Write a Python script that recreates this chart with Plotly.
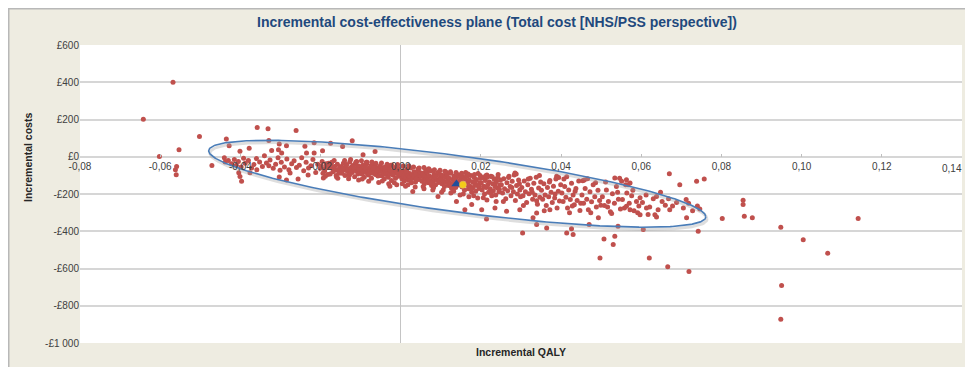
import numpy as np
import plotly.graph_objects as go

# ---------------- data ----------------
x_tick_vals = [-0.08, -0.06, -0.04, -0.02, 0.0, 0.02, 0.04, 0.06, 0.08, 0.10, 0.12, 0.14]
x_tick_text = ["-0,08", "-0,06", "-0,04", "-0,02", "0,00", "0,02", "0,04", "0,06", "0,08", "0,10", "0,12", "0,14"]
y_tick_vals = [-1000, -800, -600, -400, -200, 0, 200, 400, 600]
y_tick_text = ["-£1 000", "-£800", "-£600", "-£400", "-£200", "£0", "£200", "£400", "£600"]

qaly_far_left = [-0.0642, -0.0602, -0.0568, -0.0559, -0.0562, -0.0560, -0.0553, -0.0502, -0.0471]
cost_far_left = [202, 2, 400, -52, -70, -97, 37, 109, -47]

qaly_left_upper = [-0.0435, -0.0428, -0.0401, -0.0378, -0.0358, -0.0331, -0.0329, -0.0261, -0.0303, -0.0285,
                   -0.0305, -0.0322, -0.0297, -0.0239, -0.0216, -0.0195, -0.0175, -0.0145, -0.0121, -0.0094,
                   -0.0064, -0.0216, -0.0235, -0.0440]
cost_left_upper = [95, 59, 30, 45, 157, 150, 87, 141, 68, 59, 37, 34, 20, 57, 75, 32, 72, 55, 86, 11, 28, 20, 20, -5]

qaly_left_lower = [-0.0397, -0.0401, -0.0404, -0.0376, -0.0359, -0.0329, -0.0303, -0.0276, -0.0256, -0.0231,
                   -0.0193, -0.0160, -0.0301, -0.0285]
cost_left_lower = [-132, -106, -86, -86, -70, -48, -109, -87, -120, -98, -114, -109, -73, -125]

qaly_left_mid = [-0.0438, -0.0430, -0.0422, -0.0415, -0.0410, -0.0405, -0.0398, -0.0392, -0.0388, -0.0380,
                 -0.0372, -0.0366, -0.0360, -0.0352, -0.0345, -0.0340, -0.0335, -0.0326, -0.0318, -0.0312,
                 -0.0306, -0.0298, -0.0290, -0.0284, -0.0279, -0.0272, -0.0266, -0.0260, -0.0253, -0.0247,
                 -0.0242, -0.0236, -0.0230, -0.0224, -0.0219, -0.0212, -0.0207, -0.0201, -0.0196, -0.0190,
                 -0.0185, -0.0180, -0.0176, -0.0171, -0.0166, -0.0162]
cost_left_mid = [-28, -20, -38, -15, -45, -25, -55, -8, -35, -20, -60, -42, -10, -28, -52, 5, -33, -18, -62, -40,
                 -5, -30, -55, -12, -70, -38, -22, -58, -45, -5, -75, -30, -60, -48, -15, -85, -40, -62, -25, -78,
                 -50, -35, -92, -60, -20, -72]

qaly_left_dense = [-0.0198, -0.0194, -0.0189, -0.0186, -0.0182, -0.0178, -0.0174, -0.0169, -0.0165, -0.0161,
                   -0.0158, -0.0156, -0.0154, -0.0152, -0.0150, -0.0188, -0.0172, -0.0157]
cost_left_dense = [-50, -88, -66, -38, -95, -58, -45, -80, -52, -100, -40, -68, -88, -55, -76, -105, -30, -115]

qaly_core_a = [-0.0148, -0.0146, -0.0143, -0.0141, -0.0139, -0.0137, -0.0135, -0.0133, -0.0131, -0.0129,
               -0.0127, -0.0125, -0.0123, -0.0121, -0.0119, -0.0117, -0.0115, -0.0113, -0.0111, -0.0109,
               -0.0107, -0.0105, -0.0103, -0.0101, -0.0144, -0.0136, -0.0128, -0.0118, -0.0112, -0.0104]
cost_core_a = [-52, -88, -35, -70, -101, -58, -42, -79, -64, -95, -28, -73, -55, -84, -47, -66, -108, -38, -76, -60,
               -92, -49, -71, -83, -62, -45, -99, -57, -30, -68]

qaly_core_b = [-0.0099, -0.0097, -0.0095, -0.0093, -0.0091, -0.0089, -0.0087, -0.0085, -0.0083, -0.0081,
               -0.0079, -0.0077, -0.0075, -0.0073, -0.0071, -0.0069, -0.0067, -0.0065, -0.0063, -0.0061,
               -0.0059, -0.0057, -0.0055, -0.0053, -0.0051, -0.0096, -0.0088, -0.0078, -0.0068, -0.0058,
               -0.0052, -0.0084]
cost_core_b = [-66, -92, -45, -78, -110, -58, -85, -37, -71, -98, -62, -80, -50, -115, -74, -88, -42, -69, -95, -57,
               -83, -104, -64, -77, -48, -120, -55, -90, -60, -72, -100, -30]

qaly_core_c = [-0.0049, -0.0047, -0.0045, -0.0043, -0.0041, -0.0039, -0.0037, -0.0035, -0.0033, -0.0031,
               -0.0029, -0.0027, -0.0025, -0.0023, -0.0021, -0.0019, -0.0017, -0.0015, -0.0013, -0.0011,
               -0.0009, -0.0007, -0.0005, -0.0003, -0.0001, -0.0046, -0.0036, -0.0026, -0.0016, -0.0006,
               -0.0040, -0.0020]
cost_core_c = [-78, -102, -60, -88, -120, -70, -95, -52, -84, -110, -66, -92, -45, -128, -80, -99, -58, -86, -115, -73,
               -90, -62, -105, -82, -97, -130, -68, -75, -140, -87, -56, -94]

qaly_core_d = [0.0001, 0.0003, 0.0005, 0.0007, 0.0009, 0.0011, 0.0013, 0.0015, 0.0017, 0.0019,
               0.0021, 0.0023, 0.0025, 0.0027, 0.0029, 0.0031, 0.0033, 0.0035, 0.0037, 0.0039,
               0.0041, 0.0043, 0.0045, 0.0047, 0.0049, 0.0004, 0.0014, 0.0024, 0.0034, 0.0044,
               0.0018, 0.0038]
cost_core_d = [-92, -118, -75, -104, -130, -85, -110, -68, -97, -125, -88, -108, -60, -140, -95, -116, -80, -101, -135, -90,
               -112, -72, -122, -98, -86, -145, -78, -128, -106, -65, -150, -120]

qaly_core_e = [0.0051, 0.0053, 0.0055, 0.0057, 0.0059, 0.0061, 0.0063, 0.0065, 0.0067, 0.0069,
               0.0071, 0.0073, 0.0075, 0.0077, 0.0079, 0.0081, 0.0083, 0.0085, 0.0087, 0.0089,
               0.0091, 0.0093, 0.0095, 0.0097, 0.0099, 0.0056, 0.0066, 0.0076, 0.0086, 0.0096,
               0.0062, 0.0082]
cost_core_e = [-105, -132, -88, -118, -145, -98, -124, -80, -112, -140, -102, -127, -75, -155, -110, -133, -92, -120, -150, -100,
               -126, -85, -138, -115, -95, -160, -82, -142, -108, -130, -70, -165]

qaly_core_f = [0.0101, 0.0103, 0.0105, 0.0107, 0.0109, 0.0111, 0.0113, 0.0115, 0.0117, 0.0119,
               0.0121, 0.0123, 0.0125, 0.0127, 0.0129, 0.0131, 0.0133, 0.0135, 0.0137, 0.0139,
               0.0141, 0.0143, 0.0145, 0.0147, 0.0149, 0.0106, 0.0116, 0.0126, 0.0136, 0.0146,
               0.0112, 0.0132]
cost_core_f = [-118, -145, -100, -132, -160, -110, -138, -92, -125, -155, -115, -142, -88, -170, -122, -148, -105, -135, -165, -112,
               -140, -96, -152, -128, -108, -178, -95, -158, -120, -145, -80, -185]

qaly_core_g = [0.0151, 0.0153, 0.0155, 0.0157, 0.0159, 0.0161, 0.0163, 0.0165, 0.0167, 0.0169,
               0.0171, 0.0173, 0.0175, 0.0177, 0.0179, 0.0181, 0.0183, 0.0185, 0.0187, 0.0189,
               0.0191, 0.0193, 0.0195, 0.0197, 0.0199, 0.0156, 0.0166, 0.0176, 0.0186, 0.0196,
               0.0162, 0.0182]
cost_core_g = [-130, -162, -108, -145, -180, -120, -152, -95, -138, -172, -125, -158, -100, -190, -135, -165, -112, -148, -185, -122,
               -155, -90, -170, -140, -115, -200, -105, -175, -132, -160, -85, -210]

qaly_core_h = [0.0201, 0.0203, 0.0205, 0.0207, 0.0209, 0.0211, 0.0213, 0.0215, 0.0217, 0.0219,
               0.0221, 0.0223, 0.0225, 0.0227, 0.0229, 0.0231, 0.0233, 0.0235, 0.0237, 0.0239,
               0.0241, 0.0243, 0.0245, 0.0247, 0.0249, 0.0206, 0.0216, 0.0226, 0.0236, 0.0246]
cost_core_h = [-140, -178, -112, -158, -200, -128, -165, -98, -150, -190, -135, -172, -105, -210, -145, -182, -120, -160, -205, -132,
               -168, -95, -188, -152, -125, -220, -110, -195, -142, -175]

qaly_core_top = [-0.0140, -0.0125, -0.0110, -0.0098, -0.0086, -0.0072, -0.0062, -0.0048, -0.0034, -0.0022,
                 -0.0008, 0.0006, 0.0020, 0.0032, 0.0046, 0.0058, 0.0070, 0.0084, 0.0098, 0.0110,
                 0.0124, 0.0138, 0.0152, 0.0168, 0.0184, 0.0198, 0.0212, 0.0228, 0.0242]
cost_core_top = [-20, -15, -25, -22, -30, -28, -35, -33, -40, -45, -42, -50, -48, -55, -60, -58, -65, -70, -72, -78,
                 -80, -85, -88, -92, -95, -100, -102, -108, -110]

qaly_core_bottom = [-0.0130, -0.0105, -0.0080, -0.0055, -0.0030, -0.0010, 0.0012, 0.0036, 0.0058, 0.0080,
                    0.0102, 0.0125, 0.0148, 0.0170, 0.0192, 0.0215, 0.0238]
cost_core_bottom = [-118, -125, -132, -138, -145, -150, -158, -162, -172, -178, -190, -195, -205, -215, -222, -232, -240]

qaly_mid_i = [0.0251, 0.0254, 0.0257, 0.0259, 0.0262, 0.0265, 0.0267, 0.0270, 0.0273, 0.0275,
              0.0278, 0.0281, 0.0283, 0.0286, 0.0289, 0.0291, 0.0294, 0.0297, 0.0299,
              0.0256, 0.0269, 0.0277, 0.0288, 0.0296]
cost_mid_i = [-150, -195, -118, -172, -225, -140, -182, -105, -160, -210, -132, -188, -98, -235, -155, -200, -125, -178, -215,
              -240, -112, -165, -92, -145]

qaly_mid_j = [0.0302, 0.0305, 0.0308, 0.0311, 0.0314, 0.0317, 0.0320, 0.0323, 0.0326, 0.0329,
              0.0332, 0.0335, 0.0338, 0.0341, 0.0344, 0.0347, 0.0349, 0.0306, 0.0318, 0.0328, 0.0339, 0.0346]
cost_mid_j = [-165, -210, -130, -188, -245, -150, -198, -115, -175, -228, -142, -205, -110, -255, -168, -218, -135,
              -262, -120, -190, -236, -100]

qaly_mid_k = [0.0351, 0.0354, 0.0357, 0.0360, 0.0363, 0.0366, 0.0369, 0.0372, 0.0375, 0.0378,
              0.0381, 0.0384, 0.0387, 0.0390, 0.0393, 0.0396, 0.0399, 0.0358, 0.0371, 0.0385, 0.0394]
cost_mid_k = [-180, -228, -145, -205, -262, -165, -215, -128, -190, -245, -158, -222, -120, -275, -185, -238, -150,
              -290, -135, -200, -112]

qaly_mid_l = [0.0402, 0.0405, 0.0409, 0.0412, 0.0416, 0.0419, 0.0423, 0.0426, 0.0430, 0.0433,
              0.0437, 0.0440, 0.0444, 0.0447, 0.0407, 0.0421, 0.0435, 0.0449, 0.0414, 0.0428]
cost_mid_l = [-195, -240, -160, -218, -275, -178, -230, -142, -205, -258, -170, -235, -130, -288,
              -120, -300, -185, -250, -108, -265]

qaly_mid_m = [0.0452, 0.0456, 0.0460, 0.0464, 0.0468, 0.0472, 0.0476, 0.0480, 0.0484, 0.0488,
              0.0492, 0.0496, 0.0458, 0.0474, 0.0486, 0.0499, 0.0466]
cost_mid_m = [-205, -250, -170, -228, -285, -188, -242, -150, -215, -270, -180, -235, -125, -300, -140, -260, -118]

qaly_mid_n = [0.0503, 0.0508, 0.0513, 0.0518, 0.0523, 0.0528, 0.0533, 0.0538, 0.0543, 0.0548,
              0.0511, 0.0526, 0.0541, 0.0546, 0.0516]
cost_mid_n = [-215, -262, -178, -240, -295, -198, -250, -160, -228, -280, -135, -305, -190, -115, -270]

qaly_tail_o = [0.0553, 0.0558, 0.0564, 0.0570, 0.0576, 0.0582, 0.0588, 0.0594, 0.0561, 0.0579, 0.0591, 0.0597]
cost_tail_o = [-230, -275, -195, -250, -210, -290, -240, -265, -150, -180, -300, -220]

qaly_tail_p = [0.0603, 0.0612, 0.0621, 0.0630, 0.0642, 0.0652, 0.0660, 0.0668, 0.0678, 0.0688, 0.0617, 0.0648]
cost_tail_p = [-245, -205, -270, -225, -285, -240, -260, -225, -265, -245, -310, -190]

qaly_tail_q = [0.0705, 0.0718, 0.0728, 0.0740, 0.0712]
cost_tail_q = [-275, -250, -290, -265, -230]

qaly_outer = [0.0214, 0.0304, 0.0339, 0.0364, 0.0414, 0.0430, 0.0426, 0.0470, 0.0507, 0.0530,
              0.0534, 0.0542, 0.0493, 0.0613, 0.0634, 0.0638, 0.0671, 0.0670, 0.0696, 0.0738,
              0.0757, 0.0713, 0.0742, 0.0605, 0.0597, 0.0563, 0.0572, 0.0638, 0.0572, 0.0563,
              0.0534, 0.0551, 0.0746, 0.0620, 0.0666, 0.0719, 0.0497, 0.0802, 0.0854, 0.0854,
              0.0857, 0.0877, 0.0948, 0.1004, 0.1065, 0.1141, 0.0950, 0.0948, 0.0160, 0.0330,
              0.0093, 0.0030, -0.0027, 0.0285, 0.0389, 0.0454, 0.0139, 0.0177, 0.0202, 0.0235,
              0.0264, 0.0297, 0.0339, 0.0372, 0.0567]
cost_outer = [-334, -409, -364, -382, -409, -418, -387, -364, -441, -471,
              -427, -373, -328, -275, -311, -323, -284, -91, -150, -132,
              -119, -328, -400, -391, -311, -266, -284, -213, -141, -123,
              -114, -132, -280, -543, -591, -616, -543, -332, -234, -257,
              -320, -328, -379, -445, -518, -332, -691, -873, -284, -327,
              -213, -186, -159, -87, -105, -129, -240, -257, -284, -275,
              -293, -284, -302, -284, -150]

# mean points (blue triangle, yellow circle)
mean_qaly = [0.0139, 0.0155]
mean_cost = [-146, -150]

# confidence ellipse parameters (centre, half width in QALY, tilt and half height in cost)
ell_center_qaly = 0.0141
ell_center_cost = -145
ell_half_qaly = 0.0620
ell_tilt_cost = -177
ell_half_cost = 152

# ---------------- figure ----------------
qaly_all = (qaly_far_left + qaly_left_upper + qaly_left_lower + qaly_left_mid + qaly_left_dense +
            qaly_core_a + qaly_core_b + qaly_core_c + qaly_core_d + qaly_core_e + qaly_core_f +
            qaly_core_g + qaly_core_h + qaly_core_top + qaly_core_bottom +
            qaly_mid_i + qaly_mid_j + qaly_mid_k + qaly_mid_l +
            qaly_mid_m + qaly_mid_n + qaly_tail_o + qaly_tail_p + qaly_tail_q + qaly_outer)
cost_all = (cost_far_left + cost_left_upper + cost_left_lower + cost_left_mid + cost_left_dense +
            cost_core_a + cost_core_b + cost_core_c + cost_core_d + cost_core_e + cost_core_f +
            cost_core_g + cost_core_h + cost_core_top + cost_core_bottom +
            cost_mid_i + cost_mid_j + cost_mid_k + cost_mid_l +
            cost_mid_m + cost_mid_n + cost_tail_o + cost_tail_p + cost_tail_q + cost_outer)

# page has an 8px body margin, so the figure itself starts at (8, 8) of the screenshot
OFF = 8
W, H = 973 - OFF, 367 - OFF
ML, MT = 80 - OFF, 45 - OFF
MR = W - (962 - OFF)
MB = H - (343 - OFF)
pw, ph = W - ML - MR, H - MT - MB


def px(xs):  # screenshot x -> paper x
    return (xs - OFF - ML) / pw


def py(ys):  # screenshot y -> paper y
    return (H - MB - (ys - OFF)) / ph


fig = go.Figure()
fig.add_trace(go.Scatter(x=qaly_all, y=cost_all, mode="markers",
                         marker=dict(color="#C0504D", size=5, line=dict(width=0)),
                         hoverinfo="skip", showlegend=False))

t = np.linspace(0, 2 * np.pi, 361)
ex = ell_center_qaly + ell_half_qaly * np.cos(t)
ey = ell_center_cost + ell_tilt_cost * np.cos(t) + ell_half_cost * np.sin(t)
fig.add_trace(go.Scatter(x=ex + 0.0003, y=ey - 12, mode="lines",
                         line=dict(color="rgba(160,160,160,0.35)", width=3),
                         hoverinfo="skip", showlegend=False))
fig.add_trace(go.Scatter(x=ex, y=ey, mode="lines",
                         line=dict(color="#4A7DB8", width=1.6),
                         hoverinfo="skip", showlegend=False))

fig.add_trace(go.Scatter(x=[mean_qaly[0]], y=[mean_cost[0]], mode="markers",
                         marker=dict(symbol="triangle-up", color="#1F4E9C", size=9),
                         hoverinfo="skip", showlegend=False))
fig.add_trace(go.Scatter(x=[mean_qaly[1]], y=[mean_cost[1]], mode="markers",
                         marker=dict(symbol="circle", color="#F5CC18", size=7,
                                     line=dict(color="#E0C060", width=0.5)),
                         hoverinfo="skip", showlegend=False))

zero_pos = (0 - y_tick_vals[0]) / (y_tick_vals[-1] - y_tick_vals[0])

# the last x tick label sits at the page edge: draw it as a right-aligned text so it stays whole
shown_x_text = x_tick_text[:-1] + [""]

fig.update_layout(
    width=W, height=H,
    margin=dict(l=ML, r=MR, t=MT, b=MB, autoexpand=False),
    paper_bgcolor="#EEECE1",
    plot_bgcolor="white",
    font=dict(family="Liberation Sans, Arial, sans-serif", color="#404040"),
    title=dict(text="<b>Incremental cost-effectiveness plane (Total cost [NHS/PSS perspective])</b>",
               x=(497 - OFF) / W, xref="container", xanchor="center",
               y=1 - (22 - OFF) / H, yref="container", yanchor="middle",
               font=dict(size=14, color="#1F497D", family="Liberation Sans, Arial, sans-serif")),
    xaxis=dict(range=[x_tick_vals[0], x_tick_vals[-1]], tickvals=x_tick_vals, ticktext=shown_x_text,
               anchor="free", position=zero_pos, side="bottom",
               showgrid=False, zeroline=True, zerolinecolor="#C4C4C4", zerolinewidth=1,
               showline=False, ticks="inside", ticklen=3, tickcolor="#BFBFBF",
               ticklabelstandoff=2, ticklabeloverflow="allow",
               tickfont=dict(size=10, color="#404040")),
    yaxis=dict(range=[y_tick_vals[0], y_tick_vals[-1]], tickvals=y_tick_vals, ticktext=y_tick_text,
               showgrid=True, gridcolor="#D6D6D6", gridwidth=1.5, zeroline=False,
               showline=False, ticks="", tickfont=dict(size=10, color="#404040")),
    annotations=[
        dict(text="<b>Incremental QALY</b>", xref="paper", yref="paper", x=0.5, y=py(352),
             xanchor="center", yanchor="middle", showarrow=False,
             font=dict(size=10.5, color="#262626")),
        dict(text="<b>Incremental costs</b>", xref="paper", yref="paper", x=px(28), y=py(158),
             xanchor="center", yanchor="middle", showarrow=False, textangle=-90,
             font=dict(size=10.5, color="#262626")),
        dict(text=x_tick_text[-1], xref="paper", yref="paper", x=px(964), y=py(168),
             xanchor="right", yanchor="middle", showarrow=False,
             font=dict(size=10, color="#404040")),
    ],
    shapes=[
        dict(type="line", xref="paper", yref="paper", x0=px(OFF + 0.75), x1=px(OFF + 0.75),
             y0=py(367), y1=py(OFF), line=dict(color="#B8B8B8", width=1.5), layer="above"),
        dict(type="line", xref="paper", yref="paper", x0=px(OFF), x1=px(973),
             y0=py(OFF + 0.75), y1=py(OFF + 0.75), line=dict(color="#B8B8B8", width=1.5), layer="above"),
    ],
)

fig.write_html("out.html", default_width=f"{W}px", default_height=f"{H}px")
